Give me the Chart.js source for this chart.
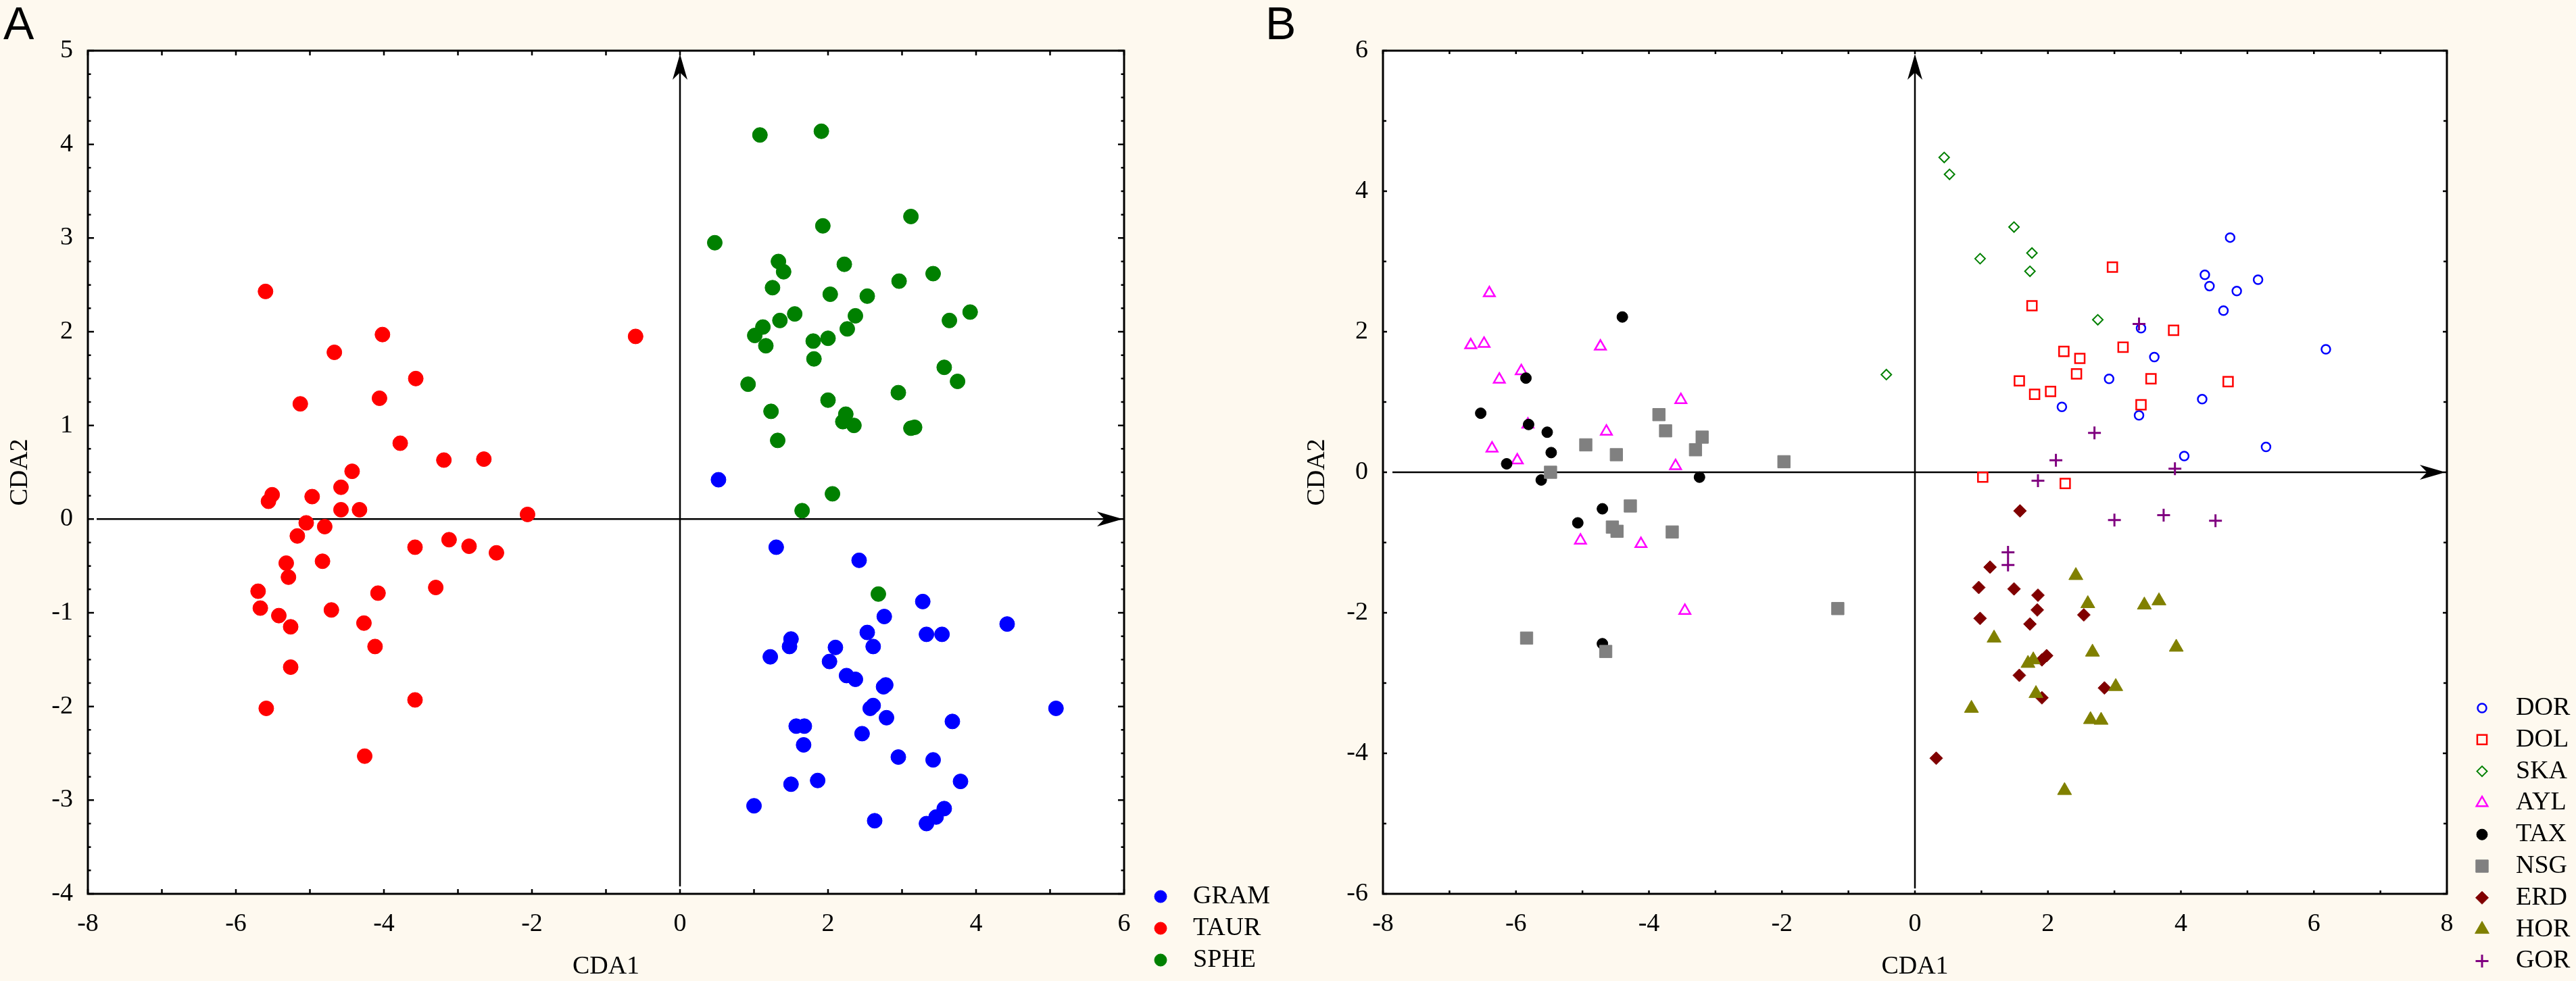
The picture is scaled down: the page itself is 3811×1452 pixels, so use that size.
<!DOCTYPE html>
<html>
<head>
<meta charset="utf-8">
<title>CDA scatter</title>
<script src="https://cdn.jsdelivr.net/npm/chart.js@4.4.0/dist/chart.umd.min.js"></script>
<style>
  html, body { margin: 0; padding: 0; background: #fef9ef; }
  #wrap { position: relative; width: 3811px; height: 1452px; overflow: hidden; }
  .panel { position: absolute; top: 0; height: 1452px; }
  #boxA { left: 0; width: 1900px; }
  #boxB { left: 1860px; width: 1951px; }
</style>
</head>
<body>
<div id="wrap">
  <div class="panel" id="boxA"><canvas id="id-chartA"></canvas></div>
  <div class="panel" id="boxB"><canvas id="id-chartB"></canvas></div>
</div>
<script>
// ----------------------------- data panel A -----------------------------
var groupsA = ["GRAM", "TAUR", "SPHE"];
var gram = [[0.52,0.42],[1.30,-0.30],[2.42,-0.44],[3.28,-0.88],[2.76,-1.04],[4.42,-1.12],[2.53,-1.21],[3.33,-1.23],[3.54,-1.23],[1.50,-1.28],[1.48,-1.36],[2.10,-1.37],[2.61,-1.36],[1.22,-1.47],[2.02,-1.52],[2.25,-1.67],[2.37,-1.71],[2.75,-1.79],[2.78,-1.77],[2.61,-1.99],[2.57,-2.02],[2.79,-2.12],[3.68,-2.16],[5.08,-2.02],[1.57,-2.21],[1.68,-2.21],[2.46,-2.29],[1.67,-2.41],[2.95,-2.54],[3.42,-2.57],[1.86,-2.79],[1.50,-2.83],[3.79,-2.80],[1.00,-3.06],[3.57,-3.09],[3.46,-3.18],[3.33,-3.25],[2.63,-3.22]];
var taur = [[-5.60,2.43],[-4.02,1.97],[-4.67,1.78],[-3.57,1.50],[-5.13,1.23],[-4.06,1.29],[-3.78,0.81],[-3.19,0.63],[-2.65,0.64],[-4.43,0.51],[-4.58,0.34],[-5.51,0.26],[-5.56,0.19],[-4.97,0.24],[-4.58,0.10],[-4.33,0.10],[-2.06,0.05],[-5.05,-0.04],[-4.80,-0.08],[-5.17,-0.18],[-3.58,-0.30],[-3.12,-0.22],[-2.85,-0.29],[-2.48,-0.36],[-5.32,-0.47],[-4.83,-0.45],[-5.29,-0.62],[-3.30,-0.73],[-5.70,-0.77],[-4.08,-0.79],[-5.67,-0.95],[-5.42,-1.03],[-4.71,-0.97],[-5.26,-1.15],[-4.27,-1.11],[-4.12,-1.36],[-5.26,-1.58],[-3.58,-1.93],[-5.59,-2.02],[-4.26,-2.53],[-0.60,1.95]];
var sphe = [[1.08,4.10],[1.91,4.14],[3.12,3.23],[1.93,3.13],[0.47,2.95],[1.33,2.75],[1.40,2.64],[2.22,2.72],[2.96,2.54],[3.42,2.62],[1.25,2.47],[2.03,2.40],[2.53,2.38],[1.55,2.19],[2.37,2.17],[1.35,2.12],[1.12,2.05],[3.64,2.12],[3.92,2.21],[1.01,1.96],[2.26,2.03],[1.80,1.90],[2.00,1.93],[1.16,1.85],[1.81,1.71],[0.92,1.44],[3.57,1.62],[3.75,1.47],[2.95,1.35],[2.00,1.27],[1.23,1.15],[2.24,1.12],[2.20,1.04],[2.35,1.00],[3.12,0.97],[3.17,0.98],[1.32,0.84],[2.06,0.27],[1.65,0.09],[2.68,-0.80]];

// ----------------------------- data panel B -----------------------------
var groupsB = ["DOR", "DOL", "SKA", "AYL", "TAX", "NSG", "ERD", "HOR", "GOR"];
var dor = [[4.74,3.34],[4.36,2.81],[4.43,2.65],[5.16,2.74],[4.84,2.58],[4.64,2.30],[3.40,2.05],[6.18,1.75],[3.60,1.64],[2.92,1.33],[4.32,1.04],[2.21,0.93],[3.37,0.81],[5.28,0.36],[4.05,0.23]];
var dol = [[2.97,2.92],[1.76,2.37],[3.89,2.02],[3.13,1.78],[2.24,1.72],[2.48,1.62],[2.43,1.40],[1.57,1.30],[3.55,1.33],[4.71,1.29],[2.04,1.15],[1.80,1.11],[3.40,0.96],[1.02,-0.07],[2.26,-0.16]];
var ska = [[-0.43,1.39],[0.44,4.48],[0.52,4.24],[1.49,3.49],[1.76,3.12],[0.98,3.04],[1.73,2.86],[2.75,2.17]];
var ayl = [[-6.40,2.55],[-6.68,1.81],[-6.48,1.83],[-4.73,1.79],[-5.92,1.44],[-6.25,1.32],[-3.52,1.03],[-5.82,0.68],[-4.64,0.58],[-6.36,0.34],[-5.98,0.17],[-3.60,0.09],[-5.03,-0.97],[-4.12,-1.02],[-3.46,-1.97]];
var tax = [[-4.40,2.21],[-5.85,1.34],[-6.53,0.84],[-5.81,0.68],[-5.53,0.57],[-5.47,0.28],[-6.14,0.12],[-5.62,-0.11],[-3.24,-0.07],[-4.70,-0.52],[-5.07,-0.72],[-4.70,-2.44]];
var nsg = [[-3.85,0.82],[-3.75,0.59],[-3.20,0.50],[-4.95,0.39],[-3.30,0.32],[-4.49,0.25],[-1.97,0.15],[-5.48,0.00],[-4.28,-0.48],[-4.55,-0.78],[-4.48,-0.84],[-3.65,-0.85],[-5.84,-2.36],[-4.65,-2.55],[-1.16,-1.94]];
var erd = [[1.58,-0.55],[1.13,-1.35],[0.96,-1.64],[1.49,-1.66],[1.85,-1.75],[1.84,-1.96],[2.54,-2.03],[0.98,-2.08],[1.73,-2.16],[1.98,-2.61],[1.91,-2.67],[1.57,-2.89],[2.85,-3.07],[1.91,-3.21],[0.32,-4.07]];
var hor = [[2.42,-1.47],[2.60,-1.87],[3.45,-1.89],[3.67,-1.83],[1.19,-2.36],[2.67,-2.56],[3.93,-2.49],[1.70,-2.72],[1.78,-2.67],[3.02,-3.05],[1.82,-3.15],[0.85,-3.36],[2.64,-3.52],[2.80,-3.53],[2.25,-4.53]];
var gor = [[3.37,2.11],[2.70,0.56],[2.12,0.17],[3.91,0.05],[1.85,-0.12],[3.00,-0.68],[3.74,-0.61],[4.52,-0.69],[1.40,-1.14],[1.40,-1.32]];

var serif = "'Liberation Serif', 'Times New Roman', serif";
Chart.defaults.font.family = serif;
Chart.defaults.font.size = 38;
Chart.defaults.color = "#000";

function series(label, pts, style, radius, color, filled, bw, n, i) {
  return {
    label: label,
    data: pts.map(function(p) { return {x: p[0], y: p[1]}; }),
    pointStyle: style,
    pointRadius: radius,
    pointHoverRadius: radius,
    backgroundColor: filled ? color : "transparent",
    borderColor: color,
    borderWidth: bw,
    showLine: false,
    order: n - i
  };
}

function drawArrow(c, x1, y1, x2, y2) {
  var ang = Math.atan2(y2 - y1, x2 - x1), len = 38, half = 11;
  c.save();
  c.strokeStyle = "#000";
  c.lineWidth = 2.5;
  c.beginPath();
  c.moveTo(x1, y1);
  c.lineTo(x2 - Math.cos(ang) * len * 0.7, y2 - Math.sin(ang) * len * 0.7);
  c.stroke();
  c.translate(x2, y2);
  c.rotate(ang);
  c.beginPath();
  c.moveTo(0, 0);
  c.lineTo(-len, -half);
  c.lineTo(-len * 0.72, 0);
  c.lineTo(-len, half);
  c.closePath();
  c.fillStyle = "#000";
  c.fill();
  c.restore();
}

function near(v, step) {
  return Math.abs(v / step - Math.round(v / step)) < 1e-6;
}

// frame, inner ticks, axis arrows, legend and panel letter
var decor = {
  id: "decor",
  beforeDraw: function(chart) {
    var c = chart.ctx, a = chart.chartArea;
    c.save();
    c.fillStyle = "#ffffff";
    c.fillRect(a.left, a.top, a.right - a.left, a.bottom - a.top);
    c.restore();
  },
  beforeDatasetsDraw: function(chart, args, o) {
    var c = chart.ctx, a = chart.chartArea;
    var x0 = chart.scales.x.getPixelForValue(0), y0 = chart.scales.y.getPixelForValue(0);
    drawArrow(c, x0, a.bottom - o.vGap, x0, a.top + 5);
    drawArrow(c, a.left + o.hGap, y0, a.right - 2, y0);
  },
  afterDraw: function(chart, args, o) {
    var c = chart.ctx, a = chart.chartArea, sx = chart.scales.x, sy = chart.scales.y, v, p, len;
    c.save();
    c.strokeStyle = "#000";
    c.lineWidth = 3;
    c.strokeRect(a.left, a.top, a.right - a.left, a.bottom - a.top);
    c.lineWidth = 2.5;
    c.beginPath();
    for (v = sx.min; v <= sx.max + 1e-6; v += o.xMinor) {
      p = sx.getPixelForValue(v);
      len = near(v, o.xMajor) ? o.xLong : o.xShort;
      c.moveTo(p, a.bottom); c.lineTo(p, a.bottom - len);
      c.moveTo(p, a.top); c.lineTo(p, a.top + len);
    }
    for (v = sy.min; v <= sy.max + 1e-6; v += o.yMinor) {
      p = sy.getPixelForValue(v);
      len = near(v, o.yMajor) ? o.yLong : o.yShort;
      c.moveTo(a.left, p); c.lineTo(a.left + len, p);
      c.moveTo(a.right, p); c.lineTo(a.right - len, p);
    }
    c.stroke();

    // legend
    c.font = "38px " + serif;
    c.textBaseline = "middle";
    c.textAlign = "left";
    chart.data.datasets.forEach(function(ds, i) {
      var ly = o.legendY + i * o.legendGap;
      c.fillStyle = ds.backgroundColor;
      c.strokeStyle = ds.borderColor;
      c.lineWidth = ds.borderWidth;
      Chart.helpers.drawPoint(c, {
        pointStyle: ds.pointStyle,
        radius: o.legendR || ds.pointRadius,
        rotation: 0,
        borderWidth: ds.borderWidth
      }, o.legendX, ly);
      c.fillStyle = "#000";
      c.fillText(ds.label, o.textX, ly);
    });

    // panel letter
    c.font = "68px 'Liberation Sans', Arial, sans-serif";
    c.textBaseline = "alphabetic";
    c.fillStyle = "#000";
    c.fillText(o.letter, o.letterX, o.letterY);
    c.restore();
  }
};

function makeOptions(xr, yr, xHeight, yWidth, yTitlePad, padRight, deco) {
  return {
    responsive: true,
    maintainAspectRatio: false,
    animation: false,
    devicePixelRatio: 1,
    layout: {padding: {left: 0, top: 75, right: padRight, bottom: 0}},
    plugins: {legend: {display: false}, tooltip: {enabled: false}, decor: deco},
    scales: {
      x: {
        type: "linear", position: "bottom", min: xr[0], max: xr[1],
        grid: {display: false, drawTicks: false},
        border: {display: false},
        ticks: {stepSize: xr[2], padding: 22, maxRotation: 0, autoSkip: false, color: "#000"},
        title: {display: true, text: "CDA1", color: "#000", font: {size: 38, lineHeight: 1}, padding: {top: 0, bottom: 2}},
        afterFit: function(s) { s.height = xHeight; }
      },
      y: {
        type: "linear", position: "left", min: yr[0], max: yr[1],
        grid: {display: false, drawTicks: false},
        border: {display: false},
        ticks: {stepSize: yr[2], padding: 22, autoSkip: false, color: "#000"},
        title: {display: true, text: "CDA2", color: "#000", font: {size: 38, lineHeight: 1}, padding: {top: yTitlePad, bottom: 0}},
        afterFit: function(s) { s.width = yWidth; }
      }
    }
  };
}

// ----------------------------- chart A -----------------------------
new Chart("id-chartA", {
  type: "scatter",
  data: {
    datasets: [
      series(groupsA[0], gram, "circle", 11, "#0000ff", true, 1, 3, 0),
      series(groupsA[1], taur, "circle", 11, "#ff0000", true, 1, 3, 1),
      series(groupsA[2], sphe, "circle", 11, "#008000", true, 1, 3, 2)
    ]
  },
  options: makeOptions([-8, 6, 2], [-4, 5, 1], 129, 130, 11, 237, {
    vGap: 11, hGap: 13,
    xMinor: 1, xMajor: 2, xLong: 7, xShort: 7,
    yMinor: 0.25, yMajor: 1, yLong: 9, yShort: 4.5,
    legendX: 1717, legendY: 1327, legendGap: 47, legendR: 9, textX: 1765,
    letter: "A", letterX: 5, letterY: 58
  }),
  plugins: [decor]
});

// ----------------------------- chart B -----------------------------
new Chart("id-chartB", {
  type: "scatter",
  data: {
    datasets: [
      series(groupsB[0], dor, "circle", 6.5, "#0000ff", false, 2.5, 9, 0),
      series(groupsB[1], dol, "rect", 10, "#ff0000", false, 2.5, 9, 1),
      series(groupsB[2], ska, "rectRot", 7.5, "#008000", false, 2, 9, 2),
      series(groupsB[3], ayl, "triangle", 9.5, "#ff00ff", false, 2.5, 9, 3),
      series(groupsB[4], tax, "circle", 8, "#000000", true, 1, 9, 4),
      series(groupsB[5], nsg, "rect", 13, "#808080", true, 1, 9, 5),
      series(groupsB[6], erd, "rectRot", 9.5, "#800000", true, 1, 9, 6),
      series(groupsB[7], hor, "triangle", 12, "#808000", true, 1, 9, 7),
      series(groupsB[8], gor, "cross", 9.5, "#800080", false, 3, 9, 8)
    ]
  },
  options: makeOptions([-8, 8, 2], [-6, 6, 2], 129, 186, 70, 191, {
    vGap: 8, hGap: 14,
    xMinor: 1, xMajor: 2, xLong: 5, xShort: 5,
    yMinor: 1, yMajor: 2, yLong: 6, yShort: 5,
    legendX: 1812, legendY: 1048, legendGap: 46.8, legendR: 0, textX: 1862,
    letter: "B", letterX: 12, letterY: 58
  }),
  plugins: [decor]
});
</script>
</body>
</html>
